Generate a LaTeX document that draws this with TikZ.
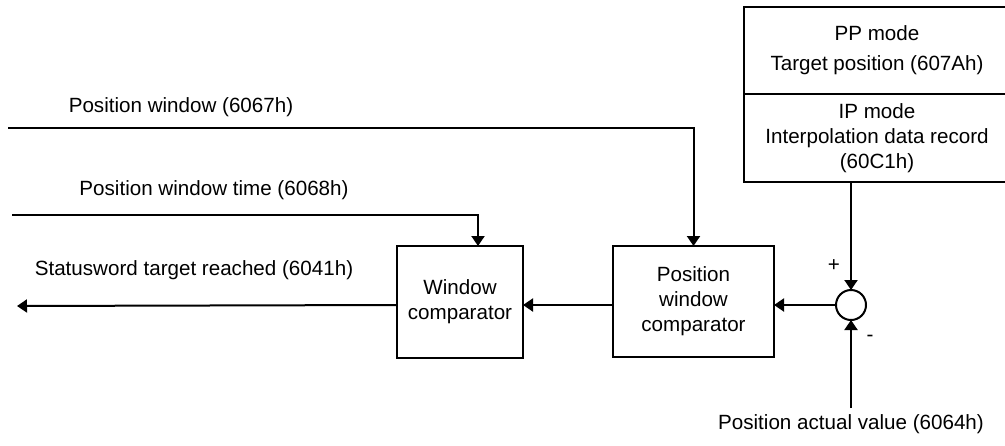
\documentclass[tikz,border=0pt]{standalone}
\usepackage{fontspec}
\setmainfont{Liberation Sans}
\usetikzlibrary{arrows.meta}
\tikzset{
  box/.style={draw, line width=1pt, align=center, inner sep=0pt, outer sep=0pt},
  arr/.style={line width=1pt, -{Triangle[length=5pt, width=6.5pt]}},
  lbl/.style={inner sep=0pt}
}
\begin{document}
\begin{tikzpicture}[x=0.5pt, y=-0.5pt, line width=1pt, font=\fontsize{10.3}{12.5}\selectfont]
  \clip (0,0) rectangle (1005,445);
  \useasboundingbox (0,0) rectangle (1005,445);
  % mode boxes (right edge runs off the page)
  \node[box, minimum width=133pt, minimum height=43.5pt] (pp) at (877,50.5) {PP mode\\[2.5pt]Target position (607Ah)};
  \node[box, minimum width=133pt, minimum height=44pt] (ip) at (877,138) {IP mode\\Interpolation data record\\(60C1h)};
  % summing point
  \node[draw, circle, line width=1pt, minimum size=15pt, inner sep=0pt, outer sep=0pt] (sum) at (851,305) {};
  \node[lbl] (plus) at (834,266) {+};
  \node[lbl] (minus) at (870,338) {-};
  % comparators
  \node[box, minimum width=80.5pt, minimum height=55.5pt] (pwc) at (693.5,301.5) {Position\\window\\comparator};
  \node[box, minimum width=63pt, minimum height=56pt] (wc) at (460,302) {Window\\comparator};
  % input / output ends
  \coordinate (pwin) at (8,128);
  \coordinate (ptime) at (12,215);
  \coordinate (wcin) at (478,215);
  \coordinate (outend) at (17,306);
  \coordinate (actual) at (851,408);
  \node[lbl] (pwinlbl) at (181,107) {Position window (6067h)};
  \node[lbl] (ptimelbl) at (214,190) {Position window time (6068h)};
  \node[lbl] (outlbl) at (194,270) {Statusword target reached (6041h)};
  \node[lbl] (actlbl) at (851,424) {Position actual value (6064h)};
  % connectors
  \draw[arr] (ip.south -| sum.north) -- (sum.north);
  \draw[arr] (actual) -- (sum.south);
  \draw[arr] (sum.west) -- (sum.west -| pwc.east);
  \draw[arr] (pwin) -| (pwc.north);
  \draw[arr] (ptime) -- (wcin) -- (wcin |- wc.north);
  \draw[arr] (pwc.west |- sum.west) -- (wc.east |- sum.west);
  \draw[arr] (wc.west |- sum.west) -- (outend);
\end{tikzpicture}
\end{document}
